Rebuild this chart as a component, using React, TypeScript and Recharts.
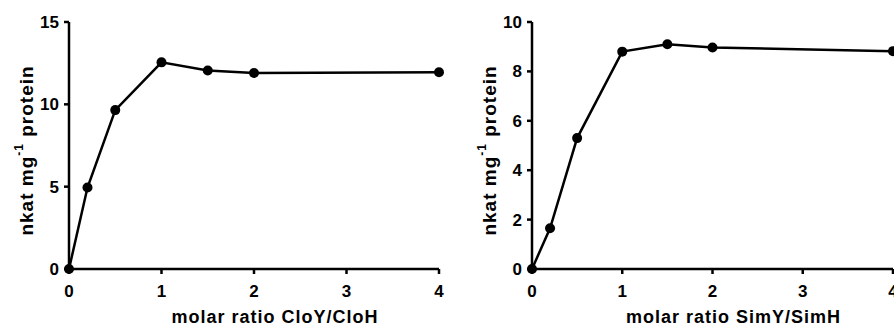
import { LineChart, Line, XAxis, YAxis, Label } from "recharts";

const ratioTicks = [0, 1, 2, 3, 4];

const cloRatio = [0, 0.2, 0.5, 1, 1.5, 2, 4];
const cloActivity = [0, 4.95, 9.65, 12.55, 12.05, 11.9, 11.95];
const cloTicks = [0, 5, 10, 15];

const simRatio = [0, 0.2, 0.5, 1, 1.5, 2, 4];
const simActivity = [0, 1.65, 5.3, 8.8, 9.1, 8.97, 8.82];
const simTicks = [0, 2, 4, 6, 8, 10];

const FONT = "'Liberation Sans', Arial, sans-serif";

const toRows = (xs: number[], ys: number[]) => xs.map((x, i) => ({ x, y: ys[i] }));

function XTick({ x, y, payload }: any) {
  return (
    <text
      x={x}
      y={y + 21}
      textAnchor="middle"
      fontFamily={FONT}
      fontWeight={700}
      fontSize={17}
      fill="#000"
    >
      {payload.value}
    </text>
  );
}

function YTick({ x, y, payload }: any) {
  return (
    <text
      x={x - 3}
      y={y + 6}
      textAnchor="end"
      fontFamily={FONT}
      fontWeight={700}
      fontSize={17}
      fill="#000"
    >
      {payload.value}
    </text>
  );
}

function YTitle(props: any) {
  const { viewBox } = props;
  const cx = viewBox.x + 26;
  const cy = viewBox.y + viewBox.height / 2 + 5;
  return (
    <text
      x={cx}
      y={cy}
      transform={`rotate(-90 ${cx} ${cy})`}
      textAnchor="middle"
      dominantBaseline="central"
      fontFamily={FONT}
      fontWeight={700}
      fontSize={19}
      letterSpacing={1}
      fill="#000"
    >
      <tspan>nkat mg</tspan>
      <tspan dy={-7} fontSize={12}>-1</tspan>
      <tspan dy={7}> protein</tspan>
    </text>
  );
}

function XTitle(props: any) {
  const { viewBox, text } = props;
  return (
    <text
      x={viewBox.x + viewBox.width / 2 + 21}
      y={viewBox.y + 54}
      textAnchor="middle"
      fontFamily={FONT}
      fontWeight={700}
      fontSize={18}
      letterSpacing={1}
      fill="#000"
    >
      {text}
    </text>
  );
}

function Panel({ data, yMax, yTicks, xTitle, width, right }: any) {
  return (
    <LineChart
      width={width}
      height={327}
      data={data}
      margin={{ top: 22, right, bottom: 0, left: 0 }}
    >
      <XAxis
        dataKey="x"
        type="number"
        domain={[0, 4]}
        ticks={ratioTicks}
        height={58}
        stroke="#000"
        strokeWidth={2.5}
        tickSize={5}
        tick={<XTick />}
      >
        <Label content={<XTitle text={xTitle} />} />
      </XAxis>
      <YAxis
        type="number"
        domain={[0, yMax]}
        ticks={yTicks}
        width={69}
        stroke="#000"
        strokeWidth={2.5}
        tickSize={5}
        tick={<YTick />}
      >
        <Label content={<YTitle />} />
      </YAxis>
      <Line
        dataKey="y"
        type="linear"
        stroke="#000"
        strokeWidth={2.5}
        dot={{ r: 5, fill: "#000", stroke: "#000", strokeWidth: 0 }}
        isAnimationActive={false}
      />
    </LineChart>
  );
}

export default function App() {
  return (
    <div
      style={{
        position: "absolute",
        left: 0,
        top: 0,
        width: 894,
        height: 327,
        overflow: "hidden",
        background: "#fff",
      }}
    >
      <div style={{ position: "absolute", left: 0, top: 0 }}>
        <Panel
          data={toRows(cloRatio, cloActivity)}
          yMax={15}
          yTicks={cloTicks}
          xTitle="molar ratio CloY/CloH"
          width={460}
          right={21}
        />
      </div>
      <div style={{ position: "absolute", left: 463, top: 0 }}>
        <Panel
          data={toRows(simRatio, simActivity)}
          yMax={10}
          yTicks={simTicks}
          xTitle="molar ratio SimY/SimH"
          width={460}
          right={30}
        />
      </div>
    </div>
  );
}
